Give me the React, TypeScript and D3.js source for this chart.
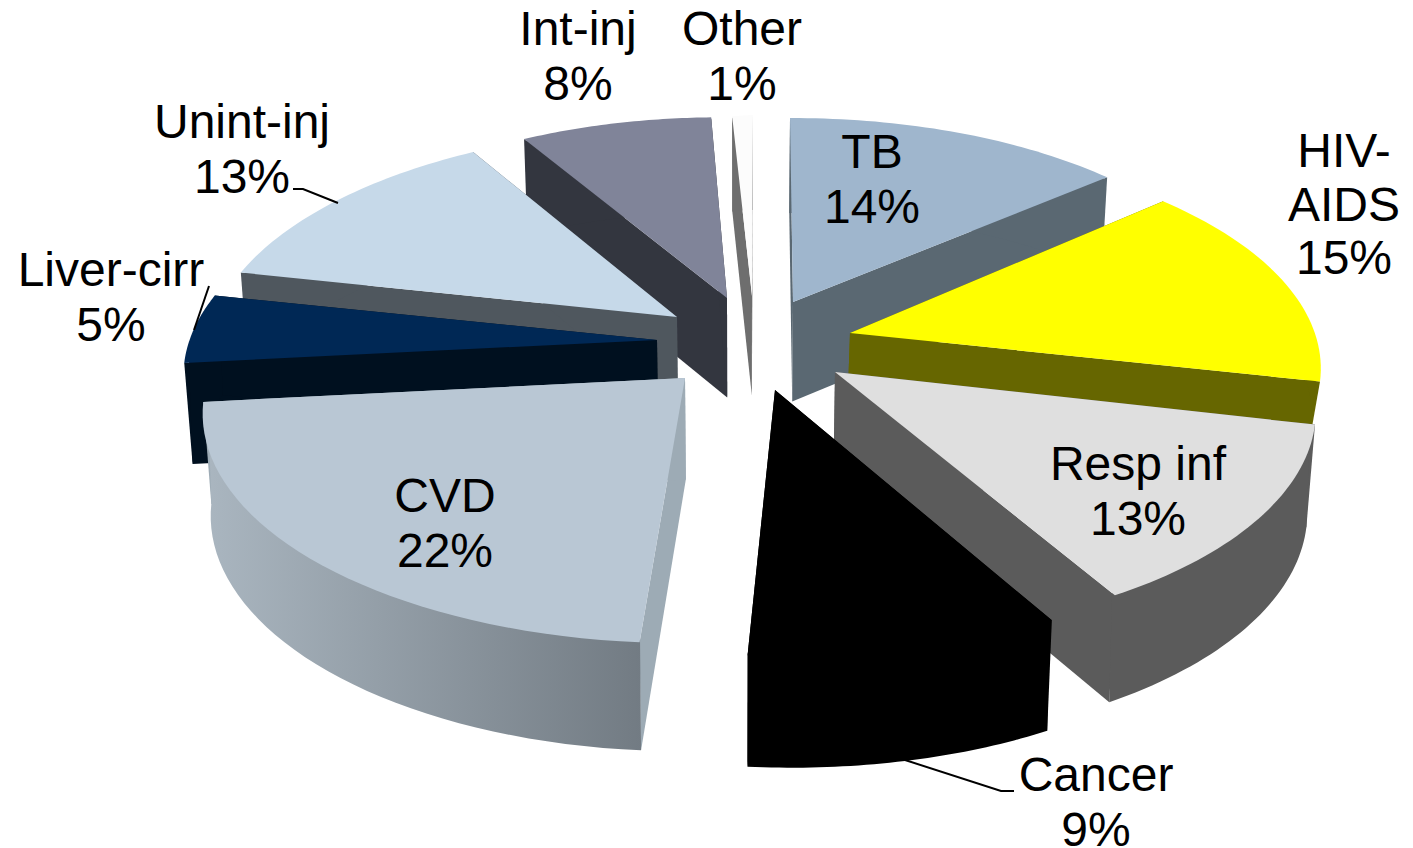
import React, { useEffect, useRef } from "react";
import * as d3 from "d3";

// Shares in clockwise order starting at twelve o'clock
const categories = ["TB", "HIV-AIDS", "Resp inf", "Cancer", "CVD", "Liver-cirr", "Unint-inj", "Int-inj", "Other"];
const shares = [14, 15, 13, 9, 22, 5, 13, 8, 1];

const topColors = ["#9fb6cd", "#ffff00", "#dfdfdf", "#000000", "#b9c7d4", "#002855", "#c6d9e9", "#808499", "#fcfcfc"];
const wallColors = ["#5a6872", "#666600", "#5b5b5b", "#000000", "#9dabb5", "#00101f", "#4f575e", "#33363f", "#6e6e6e"];

// Where each exploded slice has its tip on the page
const tipX = [793, 850, 835, 775, 685, 657, 677, 727, 752];
const tipY = [302, 333, 372, 390, 378, 340, 317, 298, 296];

// Small nudges of each rim's two ends, the original chart's camera isn't a clean ellipse
const nudgeStart: [number, number][] = [[-3, 1], [-9, -7], [9, -4], [12, 5], [-10, 1], [-1, -5], [6, -5], [14, 1], [5, 5]];
const nudgeEnd: [number, number][] = [[-8, 0], [-1, -8], [15, -2], [8, 2], [-10, -4], [0, -5], [13, -5], [9, 4], [1, 4]];
// HIV-AIDS is cut short so its wall stays hidden behind Resp inf
const extraDepth = [0, -52, 0, 3, 0, 0, 0, 0, 0];

// Back-to-front, so nearer slices cover the walls behind them
const drawOrder = [8, 7, 0, 6, 1, 5, 2, 4, 3];

const labelLines = [
    ["TB", "14%"],
    ["HIV-", "AIDS", "15%"],
    ["Resp inf", "13%"],
    ["Cancer", "9%"],
    ["CVD", "22%"],
    ["Liver-cirr", "5%"],
    ["Unint-inj", "13%"],
    ["Int-inj", "8%"],
    ["Other", "1%"],
];
const labelX = [872, 1344, 1138, 1096, 445, 111, 242, 578, 742];
const labelY = [168, 167, 480, 791, 512, 286, 138, 45, 45];
const labelStep = [55, 53.5, 55, 55, 55, 55, 55, 55, 55];

const leaders: [number, number][][] = [
    [[905, 760], [1001, 791], [1014, 791]],
    [[293, 189], [303, 189], [338, 203]],
    [[209, 286], [194, 330]],
];

const WIDTH = 1413;
const HEIGHT = 848;
const RX = 465;
const RY = 217.5;
const PERSPECTIVE = 0.176;
const VANISH_X = 740;

type Pt = [number, number];

const rim = (i: number, a: number, u: number): Pt => {
    const s = Math.sin(a);
    const t = -Math.cos(a);
    const k = 1 / (1 - PERSPECTIVE * t);
    const nx = nudgeStart[i][0] + (nudgeEnd[i][0] - nudgeStart[i][0]) * u;
    const ny = nudgeStart[i][1] + (nudgeEnd[i][1] - nudgeStart[i][1]) * u;
    return [tipX[i] + RX * s * k + nx, tipY[i] + RY * t * k + ny];
};

// Same point pushed down to the bottom face
const lower = ([x, y]: Pt, i: number): Pt => [
    VANISH_X + (x - VANISH_X) * 0.985,
    y + 95 + ((y - 118) / 524) * 13 + extraDepth[i],
];

const line = d3.line<Pt>();

const App: React.FC = () => {
    const svgRef = useRef<SVGSVGElement | null>(null);

    useEffect(() => {
        if (!svgRef.current) return;
        const svg = d3.select(svgRef.current);
        svg.selectAll("*").remove();

        const defs = svg.append("defs");
        const grad = defs
            .append("linearGradient")
            .attr("id", "cvdWall")
            .attr("gradientUnits", "userSpaceOnUse")
            .attr("x1", 205)
            .attr("x2", 642)
            .attr("y1", 0)
            .attr("y2", 0);
        grad.append("stop").attr("offset", 0).attr("stop-color", "#aab6c0");
        grad.append("stop").attr("offset", 1).attr("stop-color", "#727b83");

        const arcs = d3.pie<number>().sort(null)(shares);
        const cvd = categories.indexOf("CVD");

        const slices = svg.append("g");
        drawOrder.forEach((i) => {
            const { startAngle, endAngle } = arcs[i];
            const tip: Pt = [tipX[i], tipY[i]];
            const edge = d3.range(41).map((k) => rim(i, startAngle + ((endAngle - startAngle) * k) / 40, k / 40));
            const g = slices.append("g").attr("data-name", categories[i]);

            [edge[0], edge[40]].forEach((p) => {
                g.append("path")
                    .attr("d", line([tip, p, lower(p, i), lower(tip, i)]) + "Z")
                    .attr("fill", wallColors[i]);
            });
            // wall tucks slightly under the top face so no seam shows along the rim
            const wallTop = edge.map(([x, y]): Pt => [x + (tip[0] - x) * 0.01, y + (tip[1] - y) * 0.01]);
            g.append("path")
                .attr("d", line([...wallTop, ...edge.map((p) => lower(p, i)).reverse()]) + "Z")
                .attr("fill", i === cvd ? "url(#cvdWall)" : wallColors[i]);
            g.append("path")
                .attr("d", line([tip, ...edge]) + "Z")
                .attr("fill", topColors[i]);
        });

        svg.append("g")
            .selectAll("path")
            .data(leaders)
            .enter()
            .append("path")
            .attr("d", (d) => line(d))
            .attr("fill", "none")
            .attr("stroke", "#000")
            .attr("stroke-width", 2);

        const text = svg
            .append("g")
            .attr("font-family", "'Liberation Sans', Arial, sans-serif")
            .attr("font-size", 48)
            .attr("text-anchor", "middle")
            .attr("fill", "#000");
        labelLines.forEach((lines, i) => {
            lines.forEach((l, j) => {
                text.append("text")
                    .attr("x", labelX[i])
                    .attr("y", labelY[i] + j * labelStep[i])
                    .text(l);
            });
        });
    }, []);

    return (
        <svg
            ref={svgRef}
            width={WIDTH}
            height={HEIGHT}
            style={{ position: "absolute", left: 0, top: 0, background: "#fff" }}
        />
    );
};

export default App;
